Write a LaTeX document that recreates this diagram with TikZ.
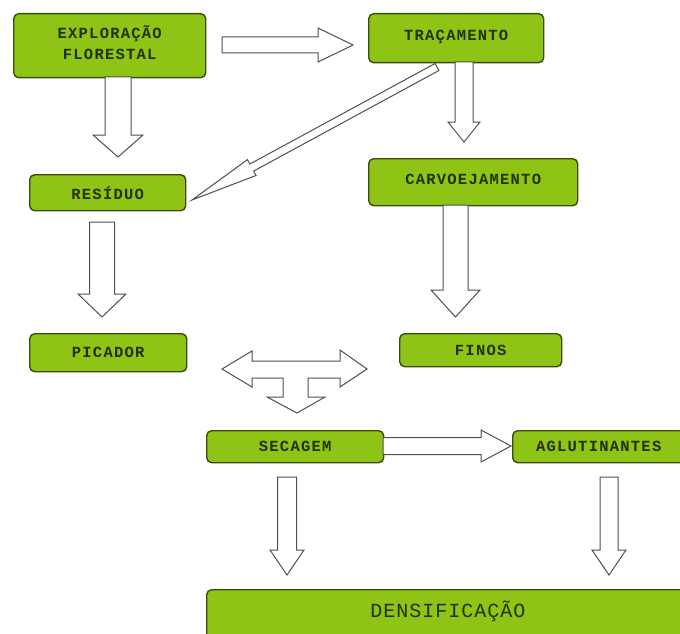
\documentclass[tikz,border=0pt]{standalone}
\usepackage{fontspec}
\usetikzlibrary{calc}
\newfontfamily\lblfont[LetterSpace=8]{Liberation Mono}
\newfontfamily\denfont[LetterSpace=5]{Liberation Mono}
\definecolor{boxfill}{RGB}{141,196,22}
\definecolor{boxline}{RGB}{60,76,14}
\definecolor{boxtext}{RGB}{36,48,0}
\definecolor{arrline}{RGB}{80,80,80}
\newcommand\blockar[6]{% name, start, tip, shaft half width, head half width, head length
  \coordinate (#1B) at ($(#3)!#6!(#2)$);
  \draw[arr] ($(#2)!#4!90:(#3)$) -- ($(#1B)!#4!90:(#3)$) -- ($(#1B)!#5!90:(#3)$) -- (#3)
    -- ($(#1B)!#5!-90:(#3)$) -- ($(#1B)!#4!-90:(#3)$) -- ($(#2)!#4!-90:(#3)$) -- cycle;}
\begin{document}
\begin{tikzpicture}[x=1pt,y=-1pt,
  box/.style={draw=boxline, line width=1.4pt, fill=boxfill, rounded corners=5pt,
    anchor=north west, inner sep=0pt, align=center, text=boxtext,
    font=\lblfont\fontsize{15.5pt}{21pt}\selectfont\bfseries},
  arr/.style={draw=arrline, line width=1pt, fill=white, line join=miter}]
\useasboundingbox (0,0) rectangle (680,634);
% boxes
\node[box, minimum width=192pt, minimum height=64pt, text depth=6pt] (exp) at (13,13) {EXPLORAÇÃO\\FLORESTAL};
\node[box, minimum width=175pt, minimum height=49pt, text depth=5pt] (tra) at (368,13) {TRAÇAMENTO};
\node[box, minimum width=156pt, minimum height=36pt] (res) at (29,174) {RESÍDUO};
\node[box, minimum width=209pt, minimum height=47pt, text depth=5pt] (car) at (368,158) {CARVOEJAMENTO};
\node[box, minimum width=157pt, minimum height=38pt] (pic) at (29,333) {PICADOR};
\node[box, minimum width=162pt, minimum height=33pt] (fin) at (399,333) {FINOS};
\node[box, minimum width=177pt, minimum height=32pt] (sec) at (206,430) {SECAGEM};
\node[box, minimum width=172pt, minimum height=32pt] (agl) at (512,430) {AGLUTINANTES};
\node[box, minimum width=490pt, minimum height=60pt] (den) at (206,589) {};
\node[text=boxtext, font=\denfont\fontsize{20pt}{22pt}\selectfont] (dentxt) at (448,611) {DENSIFICAÇÃO};
% arrow end points
\coordinate (a1s) at (222,45);  \coordinate (a1t) at (353,45);
\coordinate (a2s) at (118,77);  \coordinate (a2t) at (118,157);
\coordinate (a3s) at (437,67);  \coordinate (a3t) at (192,200);
\coordinate (a4s) at (464,62);  \coordinate (a4t) at (464,142);
\coordinate (a5s) at (102,222); \coordinate (a5t) at (102,317);
\coordinate (a6s) at (455.5,205); \coordinate (a6t) at (455.5,317);
\coordinate (a8s) at (383,446); \coordinate (a8t) at (511,446);
\coordinate (a9s) at (287,477); \coordinate (a9t) at (287,575);
\coordinate (a10s) at (609,477); \coordinate (a10t) at (609,575);
% block arrows
\blockar{a1}{a1s}{a1t}{8pt}{17pt}{35pt}
\blockar{a2}{a2s}{a2t}{13pt}{25pt}{22pt}
\blockar{a3}{a3s}{a3t}{4pt}{9pt}{68pt}
\blockar{a4}{a4s}{a4t}{9pt}{16pt}{20pt}
\blockar{a5}{a5s}{a5t}{12.5pt}{24pt}{23pt}
\blockar{a6}{a6s}{a6t}{12.5pt}{24.5pt}{27pt}
\blockar{a8}{a8s}{a8t}{8.5pt}{16pt}{30pt}
\blockar{a9}{a9s}{a9t}{9.5pt}{17pt}{25pt}
\blockar{a10}{a10s}{a10t}{9pt}{17pt}{25pt}
% three-way arrow
\draw[arr] (222,369) -- (252,351) -- (252,361) -- (340,361) -- (340,350) -- (367,369)
  -- (340,387) -- (340,378) -- (308,378) -- (308,397) -- (325,397) -- (297,413)
  -- (267,397) -- (283,397) -- (283,378) -- (252,378) -- (252,387) -- cycle;
\end{tikzpicture}
\end{document}
